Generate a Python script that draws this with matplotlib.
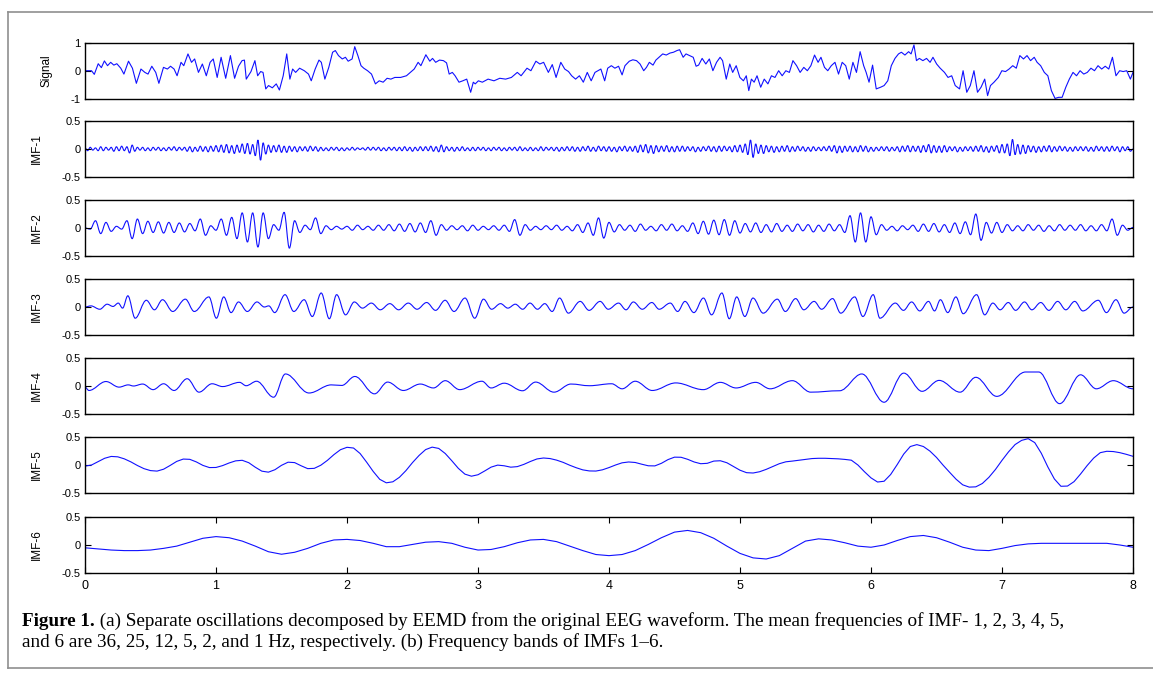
import numpy as np
import matplotlib
matplotlib.use("Agg")
import matplotlib.pyplot as plt
from matplotlib.lines import Line2D
from matplotlib.path import Path
from matplotlib.patches import PathPatch

plt.rcParams['font.family'] = ['Liberation Sans', 'DejaVu Sans']
plt.rcParams['axes.unicode_minus'] = False

W, H = 1153, 677

# ---- values ----
# original signal, (time [s], amplitude) vertices
SIGNAL = [
    (0.000, 0.01), (0.050, 0.01), (0.071, -0.12), (0.101, 0.26), (0.125, 0.12), (0.148, 0.36), (0.172, 0.19),
    (0.196, 0.31), (0.220, 0.21), (0.243, 0.26), (0.273, 0.10), (0.297, -0.11), (0.332, 0.35), (0.362, 0.10),
    (0.392, -0.44), (0.427, 0.07), (0.457, -0.05), (0.481, -0.11), (0.510, 0.17), (0.540, -0.05), (0.564, -0.44),
    (0.599, 0.13), (0.629, 0.07), (0.653, 0.17), (0.680, 0.07), (0.703, -0.17), (0.733, 0.31), (0.754, 0.19),
    (0.786, 0.61), (0.813, 0.31), (0.837, 0.43), (0.866, -0.05), (0.896, 0.25), (0.926, -0.17), (0.955, 0.31),
    (0.979, 0.43), (1.009, -0.23), (1.039, 0.49), (1.074, -0.26), (1.110, 0.55), (1.142, -0.26), (1.172, 0.17),
    (1.199, 0.37), (1.217, 0.39), (1.231, -0.29), (1.267, -0.02), (1.297, 0.37), (1.318, -0.17), (1.341, -0.02),
    (1.359, -0.05), (1.380, -0.64), (1.401, -0.52), (1.430, -0.60), (1.460, -0.46), (1.484, -0.68), (1.513, -0.17),
    (1.540, 0.61), (1.564, -0.29), (1.585, 0.07), (1.608, -0.05), (1.638, 0.10), (1.674, 0.01), (1.706, -0.11),
    (1.727, -0.35), (1.757, 0.07), (1.786, 0.39), (1.804, 0.31), (1.831, -0.29), (1.861, 0.13), (1.890, 0.67),
    (1.911, 0.73), (1.935, 0.55), (1.964, 0.43), (1.988, 0.49), (2.009, 0.35), (2.039, 0.43), (2.059, 0.87),
    (2.083, 0.55), (2.107, 0.19), (2.128, 0.10), (2.157, 0.01), (2.187, -0.11), (2.217, -0.46), (2.246, -0.35),
    (2.276, -0.40), (2.306, -0.26), (2.335, -0.29), (2.365, -0.23), (2.409, -0.23), (2.454, -0.17), (2.484, -0.05),
    (2.513, 0.07), (2.543, 0.31), (2.564, 0.19), (2.602, 0.58), (2.632, 0.35), (2.653, 0.45), (2.677, 0.31),
    (2.706, 0.39), (2.736, 0.37), (2.760, 0.29), (2.780, -0.11), (2.804, -0.05), (2.825, -0.17), (2.855, -0.40),
    (2.884, -0.35), (2.914, -0.29), (2.944, -0.76), (2.964, -0.40), (2.979, -0.46), (3.003, -0.35), (3.033, -0.40),
    (3.077, -0.29), (3.122, -0.35), (3.166, -0.26), (3.211, -0.29), (3.255, -0.23), (3.300, -0.05), (3.329, -0.17),
    (3.374, 0.10), (3.404, 0.01), (3.442, 0.35), (3.472, 0.25), (3.501, 0.31), (3.537, -0.05), (3.567, 0.23),
    (3.596, -0.23), (3.632, 0.31), (3.662, 0.07), (3.691, -0.02), (3.715, -0.17), (3.745, -0.29), (3.774, -0.17),
    (3.804, -0.40), (3.834, -0.05), (3.864, -0.35), (3.893, -0.05), (3.938, 0.07), (3.967, -0.35), (3.990, 0.10),
    (4.018, 0.19), (4.045, 0.10), (4.073, 0.17), (4.100, -0.14), (4.122, 0.19), (4.155, 0.35), (4.182, 0.40),
    (4.210, 0.37), (4.237, 0.25), (4.265, 0.01), (4.286, 0.13), (4.308, 0.31), (4.336, 0.21), (4.358, 0.39),
    (4.382, 0.49), (4.410, 0.61), (4.437, 0.57), (4.465, 0.64), (4.492, 0.67), (4.519, 0.73), (4.539, 0.76),
    (4.566, 0.49), (4.588, 0.61), (4.615, 0.55), (4.643, 0.49), (4.665, 0.17), (4.684, 0.21), (4.711, 0.45),
    (4.739, 0.25), (4.766, 0.43), (4.793, 0.01), (4.821, 0.31), (4.848, 0.49), (4.867, 0.37), (4.895, -0.29),
    (4.922, 0.25), (4.944, -0.05), (4.971, 0.19), (4.999, -0.23), (5.026, -0.35), (5.048, -0.17), (5.067, -0.70),
    (5.087, -0.29), (5.108, -0.40), (5.130, -0.17), (5.158, -0.58), (5.185, -0.29), (5.213, -0.46), (5.240, -0.17),
    (5.267, -0.23), (5.295, 0.01), (5.322, -0.17), (5.350, 0.01), (5.377, -0.05), (5.404, 0.37), (5.432, 0.19),
    (5.459, -0.05), (5.487, 0.13), (5.514, 0.01), (5.541, 0.19), (5.569, 0.57), (5.596, 0.31), (5.618, 0.49),
    (5.645, 0.13), (5.670, 0.01), (5.697, 0.19), (5.725, 0.31), (5.752, -0.11), (5.780, 0.31), (5.807, 0.19),
    (5.834, -0.29), (5.862, 0.31), (5.889, -0.05), (5.917, 0.69), (5.944, 0.19), (5.963, -0.05), (5.985, -0.40),
    (6.012, 0.21), (6.040, -0.64), (6.073, -0.58), (6.100, -0.52), (6.128, -0.35), (6.155, 0.19), (6.183, 0.45),
    (6.210, 0.61), (6.232, 0.67), (6.259, 0.57), (6.287, 0.69), (6.306, 0.61), (6.328, 0.93), (6.347, 0.37),
    (6.369, 0.45), (6.396, 0.37), (6.424, 0.45), (6.451, 0.31), (6.473, 0.49), (6.501, 0.25), (6.528, 0.10),
    (6.561, -0.05), (6.588, -0.23), (6.616, -0.17), (6.643, -0.52), (6.676, -0.64), (6.703, 0.01), (6.731, -0.76),
    (6.758, -0.52), (6.786, 0.01), (6.813, -0.76), (6.840, -0.58), (6.868, -0.29), (6.890, -0.88), (6.912, -0.52),
    (6.939, -0.40), (6.972, -0.23), (6.999, 0.01), (7.027, -0.02), (7.054, 0.07), (7.082, 0.19), (7.109, 0.10),
    (7.136, 0.55), (7.164, 0.43), (7.191, 0.55), (7.218, 0.37), (7.246, 0.49), (7.268, 0.31), (7.295, 0.19),
    (7.323, -0.05), (7.350, -0.17), (7.377, -0.70), (7.405, -0.98), (7.432, -0.94), (7.459, -0.94), (7.487, -0.58),
    (7.514, -0.29), (7.542, -0.05), (7.569, -0.17), (7.596, 0.01), (7.624, -0.11), (7.651, -0.05), (7.679, 0.10),
    (7.706, 0.01), (7.733, 0.19), (7.761, 0.07), (7.788, 0.17), (7.815, 0.07), (7.843, 0.49), (7.870, -0.17),
    (7.898, 0.01), (7.925, -0.02), (7.952, 0.01), (7.980, -0.29), (8.000, -0.05),
]

# IMF-1: successive extrema every 0.02 s, in hundredths
IMF1_STEP = 0.02
IMF1 = [
    2, -3, 3, -2, 2, -3, 4, -3, 3, -2, 3, -4, 4, -3, 5, -3, 4, -7, 7, -4,
    3, -2, 3, -3, 2, -3, 3, -2, 3, -3, 2, -3, 3, -2, 4, -3, 3, -2, 3, -4,
    4, -5, 3, -4, 5, -4, 4, -5, 5, -4, 6, -5, 7, -6, 8, -7, 6, -8, 7, -6,
    9, -8, 10, -9, 8, -12, 16, -20, 11, -9, 7, -6, 6, -5, 7, -6, 5, -6, 5, -4,
    4, -5, 4, -3, 4, -4, 5, -3, 4, -4, 3, -3, 2, -3, 3, -2, 3, -3, 2, -3,
    2, -2, 3, -2, 2, -1, 2, -2, 3, -2, 3, -2, 3, -3, 2, -3, 3, -2, 3, -3,
    3, -3, 4, -3, 3, -4, 3, -3, 4, -3, 4, -3, 5, -4, 4, -5, 7, -5, 4, -3,
    3, -4, 3, -3, 4, -3, 2, -3, 3, -3, 3, -2, 3, -3, 2, -3, 3, -2, 3, -3,
    2, -3, 3, -2, 3, -3, 4, -3, 2, -3, 3, -3, 2, -3, 4, -3, 3, -2, 3, -3,
    3, -4, 3, -3, 4, -3, 4, -4, 3, -4, 4, -3, 5, -4, 3, -4, 5, -3, 4, -4,
    4, -4, 3, -5, 4, -3, 5, -4, 4, -4, 5, -6, 7, -5, 8, -7, 6, -8, 6, -5,
    5, -4, 6, -5, 4, -5, 5, -4, 5, -4, 4, -3, 4, -5, 3, -4, 4, -3, 5, -4,
    4, -5, 5, -4, 5, -3, 4, -5, 6, -5, 7, -6, 9, -10, 16, -15, 9, -8, 7, -8,
    6, -5, 5, -6, 4, -5, 5, -4, 6, -5, 4, -4, 5, -3, 4, -4, 3, -4, 4, -3,
    3, -3, 4, -3, 5, -4, 6, -7, 5, -6, 5, -4, 5, -5, 4, -5, 6, -4, 5, -5,
    3, -4, 3, -3, 4, -3, 4, -4, 3, -3, 4, -5, 5, -4, 6, -5, 5, -4, 5, -6,
    6, -5, 8, -7, 6, -6, 5, -6, 6, -5, 4, -3, 4, -5, 3, -4, 4, -3, 4, -4,
    5, -4, 6, -5, 4, -6, 5, -4, 6, -7, 8, -7, 9, -12, 17, -10, 8, -9, 7, -8,
    6, -5, 5, -6, 4, -5, 5, -4, 6, -5, 4, -4, 5, -3, 4, -4, 3, -4, 4, -3,
    4, -3, 4, -4, 3, -4, 5, -3, 4, -4, 4, -4, 5, -3, 4, -5, 4, -3, 4, -4,
    0,
]

# IMF-2: successive extrema every 0.04 s, in hundredths
IMF2_STEP = 0.04
IMF2 = [
    0, -2, 13, -10, 10, -6, 3, -2, 13, -19, 16, -10, 12, -8, 11, -9, 10, -8, 9, -7, 8, -5, 16, -13, 4,
    -4, 16, -13, 19, -19, 27, -25, 27, -34, 27, -19, 6, -4, 28, -36, 13, -8, 5, -3, 18, -10, 4, -3, 3, -2,
    3, -4, 5, -3, 3, -4, 5, -4, 6, -5, 7, -6, 8, -7, 9, -8, 13, -13, 6, -4, 4, -3, 4, -5, 5,
    -4, 3, -3, 4, -4, 5, -6, 15, -13, 6, -4, 3, -3, 4, -3, 5, -4, 3, -5, 6, -8, 9, -13, 18, -18,
    10, -7, 6, -4, 5, -6, 7, -4, 3, -5, 6, -4, 7, -5, 4, -6, 9, -10, 12, -11, 14, -12, 15, -13, 13,
    -9, 8, -7, 9, -8, 6, -7, 8, -6, 5, -6, 7, -5, 6, -7, 5, -6, 7, -5, 6, -8, 22, -25, 27, -25,
    20, -12, 6, -4, 3, -5, 4, -3, 5, -6, 7, -6, 8, -7, 6, -8, 9, -10, 11, -12, 25, -22, 10, -9, 10,
    -8, 6, -5, 4, -5, 6, -4, 5, -6, 4, -5, 6, -4, 5, -4, 6, -5, 4, -5, 6, -5, 16, -13, 5, -4,
    1,
]

# IMF-3: (time, value) at the turning points
IMF3 = [
    (0.000, 0.00), (0.045, 0.02), (0.113, -0.04), (0.169, 0.05), (0.214, 0.01), (0.254, 0.07), (0.287, -0.02),
    (0.327, 0.20), (0.383, -0.20), (0.468, 0.12), (0.530, -0.05), (0.592, 0.13), (0.670, -0.08), (0.766, 0.14),
    (0.834, -0.08), (0.946, 0.18), (1.003, -0.20), (1.059, 0.18), (1.115, -0.10), (1.172, 0.09), (1.239, -0.08),
    (1.313, 0.09), (1.369, 0.00), (1.403, 0.02), (1.448, -0.10), (1.527, 0.22), (1.594, -0.08), (1.673, 0.13),
    (1.735, -0.17), (1.803, 0.25), (1.865, -0.21), (1.921, 0.22), (1.989, -0.14), (2.056, 0.09), (2.118, -0.02),
    (2.186, 0.07), (2.254, -0.05), (2.327, 0.06), (2.394, -0.05), (2.468, 0.07), (2.535, -0.04), (2.608, 0.08),
    (2.676, -0.06), (2.749, 0.12), (2.817, -0.08), (2.901, 0.16), (2.975, -0.20), (3.042, 0.14), (3.104, -0.04),
    (3.172, 0.06), (3.228, -0.02), (3.285, 0.05), (3.341, -0.04), (3.397, 0.07), (3.454, -0.04), (3.510, 0.06),
    (3.566, -0.08), (3.623, 0.16), (3.690, -0.11), (3.780, 0.10), (3.848, -0.06), (3.932, 0.10), (3.994, -0.04),
    (4.073, 0.07), (4.130, -0.05), (4.186, 0.09), (4.254, -0.04), (4.327, 0.08), (4.383, -0.04), (4.468, 0.07),
    (4.524, -0.08), (4.580, 0.10), (4.648, -0.10), (4.721, 0.16), (4.783, -0.14), (4.862, 0.25), (4.918, -0.21),
    (4.975, 0.18), (5.037, -0.17), (5.099, 0.16), (5.177, -0.11), (5.285, 0.14), (5.346, -0.08), (5.425, 0.15),
    (5.487, -0.05), (5.566, 0.10), (5.623, -0.04), (5.707, 0.15), (5.769, -0.11), (5.876, 0.18), (5.938, -0.17),
    (6.017, 0.22), (6.068, -0.20), (6.186, 0.07), (6.248, -0.06), (6.310, 0.09), (6.372, -0.07), (6.439, 0.10),
    (6.485, -0.07), (6.530, 0.13), (6.586, -0.10), (6.648, 0.18), (6.704, -0.12), (6.806, 0.22), (6.868, -0.14),
    (6.930, 0.07), (6.986, -0.05), (7.048, 0.08), (7.104, -0.06), (7.172, 0.09), (7.228, -0.05), (7.296, 0.08),
    (7.358, -0.06), (7.425, 0.10), (7.487, -0.05), (7.555, 0.10), (7.617, -0.07), (7.735, 0.12), (7.797, -0.10),
    (7.870, 0.13), (7.932, -0.11), (8.000, 0.00),
]

# IMF-4: (time, value) at the turning points
IMF4 = [
    (0.00, -0.02), (0.03, -0.08), (0.16, 0.08), (0.26, -0.02), (0.33, 0.02), (0.37, 0.00), (0.44, 0.035),
    (0.52, -0.065), (0.60, 0.04), (0.68, -0.08), (0.78, 0.13), (0.87, -0.11), (0.97, 0.04), (1.05, -0.01),
    (1.18, 0.065), (1.23, 0.005), (1.31, 0.085), (1.44, -0.20), (1.53, 0.215), (1.71, -0.125), (1.88, 0.02),
    (1.96, 0.01), (2.06, 0.17), (2.21, -0.14), (2.31, 0.07), (2.43, -0.08), (2.56, 0.035), (2.66, -0.035),
    (2.75, 0.095), (2.86, -0.065), (3.03, 0.085), (3.10, -0.035), (3.20, 0.05), (3.34, -0.085), (3.44, 0.07),
    (3.58, -0.11), (3.71, 0.035), (3.85, 0.005), (4.02, 0.04), (4.10, -0.05), (4.20, 0.085), (4.33, -0.08),
    (4.51, 0.055), (4.72, -0.065), (4.85, 0.065), (4.97, -0.035), (5.12, 0.065), (5.23, -0.05), (5.40, 0.095),
    (5.54, -0.11), (5.76, -0.085), (5.93, 0.215), (6.10, -0.29), (6.25, 0.23), (6.39, -0.095), (6.52, 0.10),
    (6.68, -0.11), (6.80, 0.155), (6.96, -0.185), (7.18, 0.25), (7.28, 0.25), (7.44, -0.315), (7.60, 0.20),
    (7.72, -0.05), (7.85, 0.095), (8.00, -0.05),
]

# IMF-5 every 0.05 s
IMF5_STEP = 0.05
IMF5 = [
    -0.02, 0.00, 0.06, 0.12, 0.153, 0.146, 0.11, 0.056, -0.009, -0.065,
    -0.10, -0.109, -0.075, -0.008, 0.064, 0.106, 0.101, 0.055, -0.007, -0.046,
    -0.044, -0.011, 0.036, 0.074, 0.084, 0.041, -0.04, -0.11, -0.128, -0.084,
    -0.006, 0.05, 0.043, -0.014, -0.065, -0.06, -0.004, 0.082, 0.185, 0.273,
    0.316, 0.303, 0.205, 0.05, -0.115, -0.256, -0.318, -0.30, -0.22, -0.10,
    0.043, 0.17, 0.275, 0.319, 0.296, 0.205, 0.076, -0.06, -0.163, -0.20,
    -0.174, -0.108, -0.038, -0.002, -0.014, -0.039, -0.029, 0.011, 0.063, 0.108,
    0.125, 0.115, 0.087, 0.047, -0.004, -0.049, -0.087, -0.106, -0.108, -0.086,
    -0.046, 0.0, 0.039, 0.054, 0.045, 0.014, -0.014, -0.016, 0.03, 0.096,
    0.14, 0.138, 0.102, 0.054, 0.023, 0.03, 0.07, 0.076, 0.04, -0.026,
    -0.093, -0.137, -0.143, -0.12, -0.078, -0.027, 0.023, 0.057, 0.07, 0.085,
    0.10, 0.115, 0.12, 0.12, 0.115, 0.11, 0.10, 0.086, 0.0, -0.12,
    -0.23, -0.304, -0.29, -0.17, 0.007, 0.196, 0.33, 0.364, 0.33, 0.248,
    0.135, -0.002, -0.13, -0.255, -0.354, -0.395, -0.39, -0.33, -0.22, -0.08,
    0.083, 0.235, 0.365, 0.44, 0.47, 0.40, 0.21, -0.035, -0.25, -0.38,
    -0.376, -0.297, -0.16, -0.01, 0.124, 0.22, 0.245, 0.24, 0.22, 0.19,
    0.155,
]

# IMF-6 every 0.1 s
IMF6_STEP = 0.1
IMF6 = [
    -0.05, -0.07, -0.09, -0.10, -0.10, -0.09, -0.06, -0.02, 0.05, 0.12,
    0.15, 0.13, 0.07, -0.02, -0.12, -0.165, -0.13, -0.06, 0.03, 0.09,
    0.10, 0.08, 0.03, -0.03, -0.03, 0.01, 0.05, 0.06, 0.03, -0.04,
    -0.09, -0.08, -0.03, 0.04, 0.09, 0.10, 0.06, -0.02, -0.10, -0.17,
    -0.19, -0.17, -0.10, 0.01, 0.13, 0.23, 0.26, 0.22, 0.12, -0.02,
    -0.15, -0.23, -0.25, -0.19, -0.06, 0.07, 0.11, 0.09, 0.04, -0.02,
    -0.04, 0.00, 0.08, 0.15, 0.17, 0.13, 0.05, -0.04, -0.09, -0.10,
    -0.06, -0.01, 0.02, 0.03, 0.03, 0.03, 0.03, 0.03, 0.03, 0.00,
    -0.04,
]

CAP_BOLD = 'Figure 1.'
CAP_1 = (' (a) Separate oscillations decomposed by EEMD from the original EEG waveform. '
         'The mean frequencies of IMF- 1, 2, 3, 4, 5,')
CAP_2 = 'and 6 are 36, 25, 12, 5, 2, and 1 Hz, respectively. (b) Frequency bands of IMFs 1\u20136.'

LINE_COLOR = '#1010ff'


def pairs(p):
    a = np.array(p, dtype=float)
    return a[:, 0], a[:, 1]


def stepped(v, step, scale=1.0):
    v = np.array(v, dtype=float) * scale
    return np.arange(len(v)) * step, v


def turning_curve(ax, t, v, **kw):
    # the IMFs are given by their turning points: draw each swing as a
    # bezier with flat tangents at both ends so the wave comes out rounded
    verts = [(t[0], v[0])]
    codes = [Path.MOVETO]
    for k in range(1, len(t)):
        d = (t[k] - t[k - 1]) * 0.36
        verts += [(t[k - 1] + d, v[k - 1]), (t[k] - d, v[k]), (t[k], v[k])]
        codes += [Path.CURVE4] * 3
    ax.add_patch(PathPatch(Path(verts, codes), fill=False, **kw))


# name, t, v, y-limit, drawn through turning points?
series = [
    ('Signal',) + pairs(SIGNAL) + (1.0, False),
    ('IMF-1',) + stepped(IMF1, IMF1_STEP, 0.01) + (0.5, True),
    ('IMF-2',) + stepped(IMF2, IMF2_STEP, 0.01) + (0.5, True),
    ('IMF-3',) + pairs(IMF3) + (0.5, True),
    ('IMF-4',) + pairs(IMF4) + (0.5, True),
    ('IMF-5',) + stepped(IMF5, IMF5_STEP) + (0.5, False),
    ('IMF-6',) + stepped(IMF6, IMF6_STEP) + (0.5, False),
]

fig = plt.figure(figsize=(W / 100, H / 100), dpi=100)

tops = [43, 121, 200, 279, 358, 437, 517]
ax_h = 56
x0, x1 = 85, 1133

for i, (name, t, v, lim, turns) in enumerate(series):
    ax = fig.add_axes([x0 / W, 1 - (tops[i] + ax_h) / H, (x1 - x0) / W, ax_h / H])
    if turns:
        turning_curve(ax, t, v, edgecolor=LINE_COLOR, lw=0.8)
    else:
        ax.plot(t, v, color=LINE_COLOR, lw=0.8)
    ax.set_xlim(0, 8)
    ax.set_ylim(-lim, lim)
    ax.set_yticks([-lim, 0, lim])
    if lim == 1:
        ax.set_yticklabels(['-1', '0', '1'])
    else:
        ax.set_yticklabels(['-0.5', '0', '0.5'])
    ax.tick_params(axis='y', direction='in', left=True, right=True,
                   length=4, width=0.8, labelsize=8, pad=3)
    if i == len(series) - 1:
        ax.set_xticks(range(9))
        ax.tick_params(axis='x', direction='in', top=True, bottom=True,
                       length=4, width=0.8, labelsize=9, pad=5)
    else:
        ax.set_xticks([])
    for s in ax.spines.values():
        s.set_linewidth(1.0)
    ax.set_ylabel(name, fontsize=8.5)
    ax.yaxis.set_label_coords(-0.031 if lim == 1 else -0.040, 0.5)

# grey frame round the figure
fl = dict(color='#8f8f8f', lw=1.2, transform=fig.transFigure)
fig.add_artist(Line2D([8 / W, 8 / W], [1 - 12 / H, 1 - 668 / H], **fl))
fig.add_artist(Line2D([8 / W, 1], [1 - 12 / H, 1 - 12 / H], **fl))
fig.add_artist(Line2D([8 / W, 1], [1 - 668 / H, 1 - 668 / H], **fl))

# caption; the original face is condensed, so trade a little width for height
serif = ['Liberation Serif', 'DejaVu Serif']
r = fig.canvas.get_renderer()
fs = 12
tb = fig.text(22 / W, 1 - 621 / H, CAP_BOLD, fontsize=fs, fontweight='bold', family=serif, va='center')
tr = fig.text(0, 1 - 621 / H, CAP_1, fontsize=fs, family=serif, va='center')
wtot = tb.get_window_extent(r).width + tr.get_window_extent(r).width
fs = fs * 1040 / wtot
tb.set_fontsize(fs)
tr.set_fontsize(fs)
bx = tb.get_window_extent(r).x1
tr.set_x(bx / W)
fig.text(22 / W, 1 - 642 / H, CAP_2, fontsize=fs, family=serif, va='center')

fig.savefig('out.png', dpi=100)
